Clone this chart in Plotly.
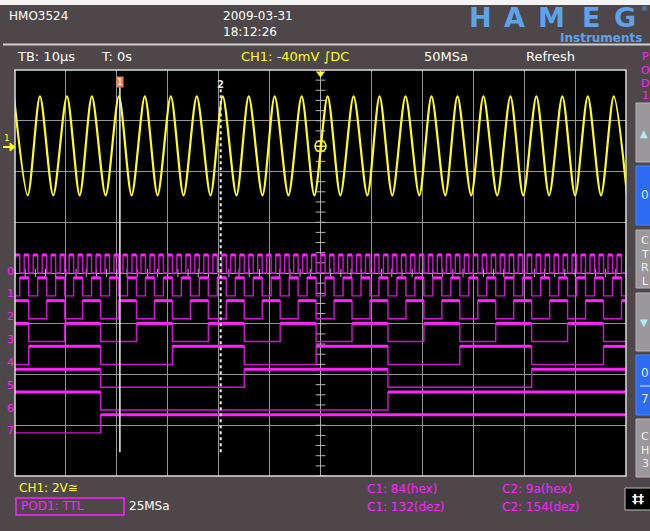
import plotly.graph_objects as go

# ---------------- data ----------------
# CH1 (analog, yellow): times (µs) of the maxima and minima of the sine
SINE_PEAK_US = [-60.2, -55.1, -49.8, -44.9, -39.6, -34.5, -29.4, -24.3, -19.2, -14.1, -9.0, -3.7,
                1.4, 6.5, 11.6, 16.7, 21.8, 26.9, 32.0, 37.3, 42.4, 47.5, 52.5, 57.6]
SINE_TROUGH_US = [-57.5, -52.5, -47.3, -42.2, -37.1, -32.0, -26.9, -21.6, -16.5, -11.4, -6.3, -1.2,
                  3.9, 9.2, 14.1, 19.4, 24.5, 29.6, 34.7, 39.8, 44.9, 50.0, 55.1, 60.2]
SINE_PEAK_DIV = 3.48
SINE_TROUGH_DIV = 1.53
CH1_LEVEL_DIV = 2.5

# POD1 (digital, magenta): 8-bit counter on bits 0..7
POD_BITS = [0, 1, 2, 3, 4, 5, 6, 7]
POD_LABELS = ["0", "1", "2", "3", "4", "5", "6", "7"]
POD_LOW_DIV = [0.0, -0.45, -0.90, -1.35, -1.80, -2.25, -2.70, -3.15]
POD_HIGH_OFFSET_DIV = 0.355
BUS_COUNT_START = 109        # bus value at the left edge of the screen
BUS_COUNT_END = 245          # bus value at the right edge
BUS_T_COUNT128_US = -43.2    # time at which the bus reaches 128 (0x80)
BUS_STEP_US = 0.882          # time between counter increments

# cursors
CURSOR_US = [-39.4, -19.6]
CURSOR_LABELS = ["1", "2"]
CURSOR_READOUTS = [["C1: 84(hex)", "C1: 132(dez)"], ["C2: 9a(hex)", "C2: 154(dez)"]]

X_RANGE = [-60, 60]
Y_RANGE = [-4, 4]

# ---------------- helpers (pixel -> paper) ----------------
L, R, T, B = 15, 626, 70, 476
W, H = 650, 531


def PX(x):
    return (x - L) / (R - L)


def PY(y):
    return (B - y) / (B - T)


BG = "#4d474a"
YEL = "#ffff1a"
MAG = "#ff22ff"
MAG_D = "#d414d4"
FONT = "DejaVu Sans"

fig = go.Figure()

# graticule minor ticks on the centre axes
fig.add_trace(go.Scatter(
    x=[0] * 41, y=[Y_RANGE[0] + 0.2 * i for i in range(41)], mode="markers",
    marker=dict(symbol="line-ew", size=7, line=dict(color="#b4b4b4", width=1)),
    hoverinfo="skip", showlegend=False))
fig.add_trace(go.Scatter(
    x=[X_RANGE[0] + 2 * i for i in range(61)], y=[0] * 61, mode="markers",
    marker=dict(symbol="line-ns", size=6, line=dict(color="#b4b4b4", width=1)),
    hoverinfo="skip", showlegend=False))

# ---------------- digital channels ----------------
change_t = [BUS_T_COUNT128_US + (c - 128) * BUS_STEP_US for c in range(BUS_COUNT_START + 1, BUS_COUNT_END + 1)]
counts = list(range(BUS_COUNT_START + 1, BUS_COUNT_END + 1))

for bit, low in zip(POD_BITS, POD_LOW_DIV):
    hi = low + POD_HIGH_OFFSET_DIV
    state = (BUS_COUNT_START >> bit) & 1
    xs, ys = [X_RANGE[0]], [hi if state else low]
    intervals = []
    start = X_RANGE[0]
    for t, c in zip(change_t, counts):
        s = (c >> bit) & 1
        if s != state:
            xs.append(t)
            ys.append(hi if s else low)
            if state:
                intervals.append((start, t))
            start = t
            state = s
    xs.append(X_RANGE[1])
    ys.append(hi if state else low)
    if state:
        intervals.append((start, X_RANGE[1]))
    fig.add_trace(go.Scatter(x=xs, y=ys, mode="lines", line=dict(color=MAG_D, width=1.4, shape="hv"),
                             hoverinfo="skip", showlegend=False))
    hx, hy = [], []
    for a, b in intervals:
        hx += [a, b, None]
        hy += [hi, hi, None]
    fig.add_trace(go.Scatter(x=hx, y=hy, mode="lines", line=dict(color=MAG, width=3),
                             hoverinfo="skip", showlegend=False))

# ---------------- analog channel ----------------
pts = sorted([(t, SINE_PEAK_DIV) for t in SINE_PEAK_US] + [(t, SINE_TROUGH_DIV) for t in SINE_TROUGH_US])
fig.add_trace(go.Scatter(x=[p[0] for p in pts], y=[p[1] for p in pts], mode="lines",
                         line=dict(color=YEL, width=2.2, shape="spline", smoothing=0.8),
                         hoverinfo="skip", showlegend=False))

# trigger level marker and trigger position marker
fig.add_trace(go.Scatter(x=[0], y=[CH1_LEVEL_DIV], mode="markers",
                         marker=dict(symbol="circle-cross-open", size=11, color=YEL, line=dict(width=1.5)),
                         hoverinfo="skip", showlegend=False))
fig.add_trace(go.Scatter(x=[0], y=[3.93], mode="markers", cliponaxis=False,
                         marker=dict(symbol="triangle-down", size=8, color=YEL),
                         hoverinfo="skip", showlegend=False))

shapes = []
annotations = []

# cursors
shapes.append(dict(type="line", xref="x", yref="y", x0=CURSOR_US[0], x1=CURSOR_US[0], y0=3.66, y1=-3.53,
                   line=dict(color="#f0f0f0", width=1.5)))
shapes.append(dict(type="line", xref="x", yref="y", x0=CURSOR_US[1], x1=CURSOR_US[1], y0=3.62, y1=-3.53,
                   line=dict(color="#f0f0f0", width=2, dash="dot")))
annotations.append(dict(x=CURSOR_US[0], y=3.76, xref="x", yref="y", text=CURSOR_LABELS[0], showarrow=False,
                        font=dict(family=FONT, size=9, color="white"), bgcolor="#ef7d55",
                        borderpad=0, xanchor="center", yanchor="middle"))
annotations.append(dict(x=CURSOR_US[1], y=3.72, xref="x", yref="y", text="<b>" + CURSOR_LABELS[1] + "</b>",
                        showarrow=False, font=dict(family=FONT, size=10, color="#e8e8e8"),
                        xanchor="center", yanchor="middle"))

# plot frame
shapes.append(dict(type="rect", xref="paper", yref="paper", x0=0, x1=1, y0=0, y1=1,
                   line=dict(color="#dcdcdc", width=1.5), layer="above"))

# header bits
shapes.append(dict(type="rect", xref="paper", yref="paper", x0=PX(0), x1=PX(650), y0=PY(0), y1=PY(5),
                   fillcolor="#f4f4f4", line=dict(width=0), layer="below"))
shapes.append(dict(type="line", xref="paper", yref="paper", x0=PX(3), x1=PX(650), y0=PY(44.5), y1=PY(44.5),
                   line=dict(color="#cfcfcf", width=2)))


def txt(x, y, s, color="white", size=12, anchor="left", bold=False, family=FONT):
    annotations.append(dict(x=PX(x), y=PY(y), xref="paper", yref="paper",
                            text=("<b>%s</b>" % s) if bold else s, showarrow=False,
                            font=dict(family=family, size=size, color=color),
                            xanchor=anchor, yanchor="middle"))


txt(7, 16, "HMO3524", size=12)
txt(221, 16, "2009-03-31", size=12)
txt(221, 32, "18:12:26", size=12)
for ch, cx in zip("HAMEG", [480, 514, 551, 591, 625]):
    txt(cx, 18, ch, color="#5fa2ea", size=27, anchor="center", bold=True)
txt(644, 9, "®", color="#5fa2ea", size=7, anchor="center")
txt(644, 38, "Instruments", color="#5fa2ea", size=12, anchor="right", bold=True)

txt(15, 57, "TB: 10µs", size=13)
txt(99, 57, "T: 0s", size=13)
txt(239, 57, "CH1: -40mV ∫DC", color=YEL, size=13)
txt(422, 57, "50MSa", size=13)
txt(524, 57, "Refresh", size=13)

# left markers: channel 1 reference "1" with arrow
txt(7, 138, "1", color=YEL, size=9, anchor="center")
shapes.append(dict(type="path", xref="paper", yref="paper",
                   path="M %f,%f L %f,%f" % (PX(3), PY(147), PX(13), PY(147)),
                   line=dict(color=YEL, width=2)))
shapes.append(dict(type="path", xref="paper", yref="paper",
                   path="M %f,%f L %f,%f L %f,%f Z" % (PX(10), PY(143), PX(15), PY(147), PX(10), PY(151)),
                   fillcolor=YEL, line=dict(color=YEL, width=1)))
for lab, low in zip(POD_LABELS, POD_LOW_DIV):
    ypix = 273 - low * 50.75
    txt(10, ypix - 2, lab, color=MAG, size=11, anchor="center")

# right-hand soft keys
for y0, y1, col, edge in [(103, 162, "#9c979a", "#b8b4b6"), (166, 225, "#2d6cf2", "#4a86ff"),
                          (230, 288, "#9c979a", "#b8b4b6"), (293, 351, "#9c979a", "#b8b4b6"),
                          (355, 415, "#2d6cf2", "#4a86ff"), (419, 477, "#9c979a", "#b8b4b6")]:
    shapes.append(dict(type="rect", xref="paper", yref="paper", x0=PX(636), x1=PX(655), y0=PY(y0), y1=PY(y1),
                       fillcolor=col, line=dict(color=edge, width=1)))
for s, yy in zip("POD1", [57, 70, 83, 95]):
    txt(645, yy, s, color=MAG, size=11, anchor="center")
txt(644, 133, "▲", color="#a8f0ff", size=10, anchor="center")
txt(645, 195, "0", color="#d8e8ff", size=12, anchor="center")
for s, yy in zip("CTRL", [240, 254, 267, 281]):
    txt(645, yy, s, color="#f0f0f0", size=11, anchor="center")
txt(644, 322, "▼", color="#a8f0ff", size=10, anchor="center")
txt(645, 373, "0", color="#d8e8ff", size=12, anchor="center")
shapes.append(dict(type="line", xref="paper", yref="paper", x0=PX(640), x1=PX(650), y0=PY(386), y1=PY(386),
                   line=dict(color="#d8e8ff", width=1)))
txt(645, 399, "7", color="#d8e8ff", size=12, anchor="center")
for s, yy in zip("CH3", [436, 450, 463]):
    txt(645, yy, s, color="#f0f0f0", size=11, anchor="center")

# footer
txt(17, 488, "CH1: 2V≅", color=YEL, size=12)
shapes.append(dict(type="rect", xref="paper", yref="paper", x0=PX(16), x1=PX(124), y0=PY(498), y1=PY(515),
                   line=dict(color=MAG, width=1.5)))
txt(19, 506, "POD1: TTL", color=MAG, size=12)
txt(127, 506, "25MSa", size=12)
txt(365, 489, CURSOR_READOUTS[0][0], color=MAG, size=12)
txt(365, 507, CURSOR_READOUTS[0][1], color=MAG, size=12)
txt(500, 489, CURSOR_READOUTS[1][0], color=MAG, size=12)
txt(500, 507, CURSOR_READOUTS[1][1], color=MAG, size=12)
shapes.append(dict(type="rect", xref="paper", yref="paper", x0=PX(625), x1=PX(652), y0=PY(488), y1=PY(510),
                   fillcolor="black", line=dict(color="#bdbdbd", width=1)))
txt(638, 499, "‡‡", color="white", size=12, anchor="center", bold=True)

fig.update_layout(
    width=W, height=H,
    margin=dict(l=L, r=W - R, t=T, b=H - B, pad=0),
    paper_bgcolor=BG, plot_bgcolor="black",
    showlegend=False,
    xaxis=dict(range=X_RANGE, dtick=10, tick0=0, showgrid=True, gridcolor="#959595", gridwidth=1,
               zeroline=True, zerolinecolor="#a8a8a8", zerolinewidth=1, showticklabels=False,
               ticks="", showline=False, fixedrange=True),
    yaxis=dict(range=Y_RANGE, dtick=1, tick0=0, showgrid=True, gridcolor="#959595", gridwidth=1,
               zeroline=True, zerolinecolor="#a8a8a8", zerolinewidth=1, showticklabels=False,
               ticks="", showline=False, fixedrange=True),
    shapes=shapes, annotations=annotations,
)

fig.write_html("out.html", config={"displayModeBar": False},
               post_script="document.body.style.margin='0';document.body.style.overflow='hidden';")
